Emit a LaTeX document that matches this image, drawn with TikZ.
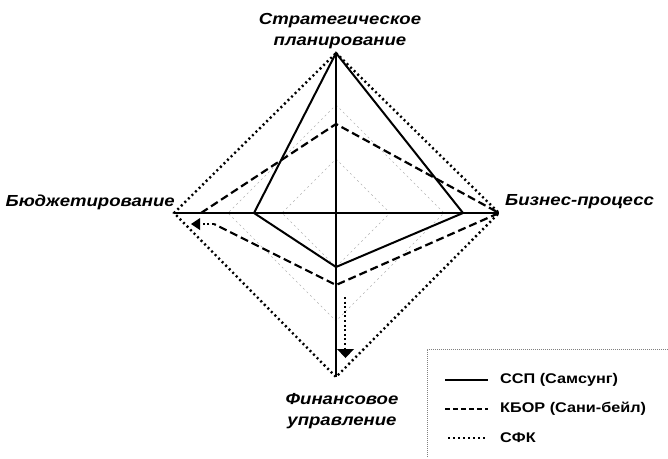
\documentclass[tikz,border=0pt]{standalone}
\usepackage{fontspec}
\newfontfamily\lab{Liberation Sans}[FakeStretch=1.16]
\begin{document}
\begin{tikzpicture}[x=1pt,y=-1pt,
  axis/.style={line width=1.3pt,black},
  grid/.style={line width=0.5pt,gray!60,dash pattern=on 2pt off 3pt},
  ssp/.style={line width=2pt,black,line join=miter},
  kbor/.style={line width=2.2pt,black,dash pattern=on 8pt off 4pt},
  sfk/.style={line width=2.4pt,black,dash pattern=on 2pt off 3pt},
  arrowstem/.style={line width=2.4pt,black,dash pattern=on 2pt off 2.6pt},
  axlabel/.style={font=\lab\bfseries\itshape\fontsize{16}{21}\selectfont,inner sep=0pt,align=center},
  legtext/.style={font=\lab\bfseries\fontsize{14}{16}\selectfont,inner sep=0pt,anchor=west},
  legbox/.style={line width=0.6pt,gray,dash pattern=on 1pt off 1pt}]
\useasboundingbox (0,0) rectangle (668,458);
% key points
\coordinate (C) at (336,213);
\coordinate (T) at (336,53);
\coordinate (R) at (499,213);
\coordinate (B) at (336,377);
\coordinate (L) at (174,213);
% grid diamonds
\draw[grid] (336,159) -- (390,213) -- (336,267) -- (282,213) -- cycle;
\draw[grid] (336,105) -- (444,213) -- (336,321) -- (228,213) -- cycle;
% axes
\draw[axis] (L) -- (R);
\draw[axis] (T) -- (B);
% SFK
\draw[sfk] (T) -- (R) -- (B) -- (L) -- cycle;
% SSP
\coordinate (s1) at (463,213);
\coordinate (s2) at (336,267);
\coordinate (s3) at (254,213);
\draw[ssp] (T) -- (s1) -- (s2) -- (s3) -- cycle;
% KBOR
\coordinate (k0) at (336,124);
\coordinate (k2) at (336,285);
\coordinate (k3) at (201,213);
\coordinate (k4) at (214,224);
\draw[kbor] (k3) -- (k0) -- (R) -- (k2) -- (k4);
% left arrow
\coordinate (la) at (201,224);
\draw[arrowstem] (k4) -- (la);
\fill (200,218) -- (200,230) -- (191,224) -- cycle;
% down arrow
\coordinate (da0) at (345,297);
\coordinate (da1) at (345,349);
\draw[arrowstem] (da0) -- (da1);
\fill (337,349) -- (354,349) -- (345.5,358) -- cycle;
% labels
\node[axlabel] (lt) at (340,31) {Стратегическое\\планирование};
\node[axlabel,anchor=east] (ll) at (175,202) {Бюджетирование};
\node[axlabel,anchor=west] (lr) at (505,202) {Бизнес-процесс};
\node[axlabel] (lb) at (342,411) {Финансовое\\управление};
% legend
\draw[legbox] (668,349) -- (427,349) -- (427,458);
\draw[line width=1.8pt] (445,380) -- (488,380);
\draw[line width=1.6pt,dash pattern=on 5pt off 3pt] (445,409) -- (488,409);
\draw[line width=1.6pt,dash pattern=on 1.5pt off 3.5pt] (448,438) -- (488,438);
\node[legtext] (t1) at (500,380) {ССП (Самсунг)};
\node[legtext] (t2) at (500,409) {КБОР (Сани-бейл)};
\node[legtext] (t3) at (500,438) {СФК};
\end{tikzpicture}
\end{document}
